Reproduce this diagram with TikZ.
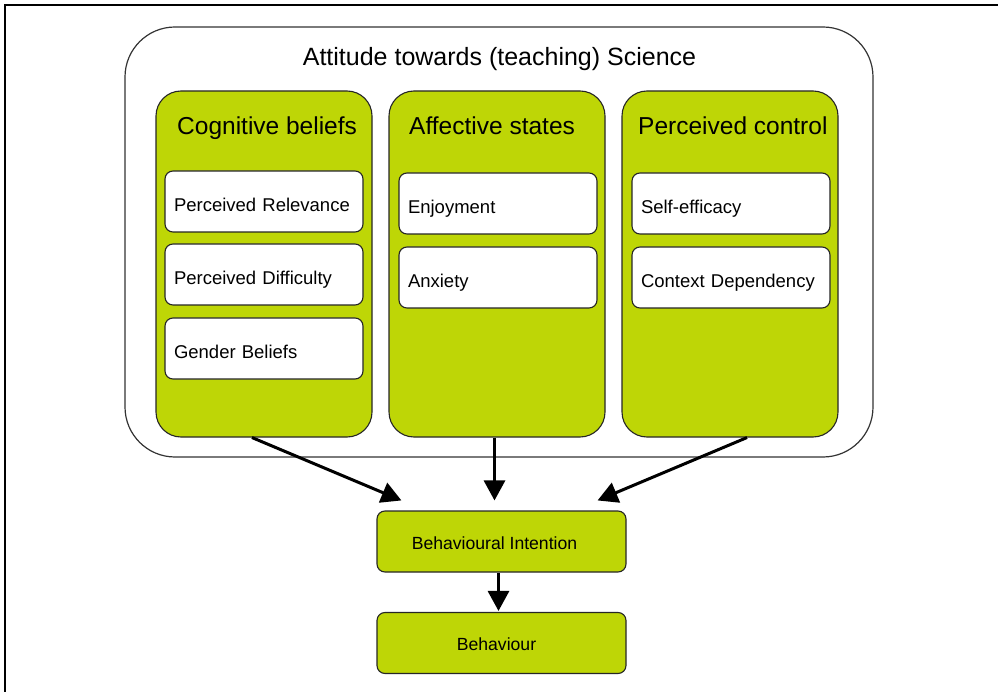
\documentclass[tikz,border=0pt]{standalone}
\usepackage{fontspec}
\setmainfont{Liberation Sans}
\usetikzlibrary{positioning}
\usetikzlibrary{arrows.meta}
\definecolor{leaf}{RGB}{190,214,6}

\begin{document}
\begin{tikzpicture}[x=1pt, y=-1pt,
        panel/.style={draw=black!85, fill=leaf, line width=1.1pt, rounded corners=25pt, minimum width=216pt, minimum height=346pt},
        item/.style={draw=black!85, fill=white, line width=1.1pt, rounded corners=8pt, minimum width=198pt, minimum height=61pt,
            text width=180pt, inner xsep=9pt, align=left, text height=21pt, text depth=0pt, font=\fontsize{18.5}{22}\selectfont},
        stage/.style={draw=black!85, fill=leaf, line width=1.1pt, rounded corners=8pt, minimum width=249pt, minimum height=61pt,
            text height=15.5pt, text depth=0pt, font=\fontsize{17.6}{21}\selectfont},
        ttl/.style={anchor=base west, inner sep=0pt, font=\fontsize{24.5}{28}\selectfont},
        arr/.style={line width=3pt, -{Triangle[length=20pt,width=21pt]}}]
            \useasboundingbox (0,0) rectangle (998,692);
            \draw[line width=1.3pt] (5,692) -- (5,5) -- (998,5);

            \node[draw=black!80, line width=1.2pt, rounded corners=50pt, minimum width=748pt, minimum height=430pt] (attitude) at (499,242) {};
            \node[anchor=base, inner sep=0pt, font=\fontsize{25}{30}\selectfont] (title) at (499.5,66) {Attitude towards (teaching) Science};

            \node[panel] (cog) at (264,264) {};
            \node[panel] (aff) at (497,264) {};
            \node[panel] (ctl) at (730,264) {};
            \node[ttl] (cogt) at (177,135) {Cognitive beliefs};
            \node[ttl] (afft) at (409,135) {Affective states};
            \node[ttl] (ctlt) at (638,135) {Perceived control};

            \node[item] (rel) at (264,201.5) {Perceived Relevance};
            \node[item] (dif) at (264,274.5) {Perceived Difficulty};
            \node[item] (gen) at (264,348.5) {Gender Beliefs};
            \node[item] (enj) at (498,203.5) {Enjoyment};
            \node[item] (anx) at (498,277.5) {Anxiety};
            \node[item] (eff) at (731,203.5) {Self-efficacy};
            \node[item] (con) at (731,277.5) {Context Dependency};

            \node[stage] (bi) at (501.5,541.5) {\hspace*{-14pt}Behavioural Intention};
            \node[stage] (beh) at (501.5,643) {\hspace*{-10pt}Behaviour};

            \draw[arr] ([xshift=-12pt]cog.south) -- ([xshift=25pt,yshift=10pt]bi.north west);
            \draw[arr] ([xshift=-2.5pt]aff.south) -- ([xshift=-7pt,yshift=10pt]bi.north);
            \draw[arr] ([xshift=17pt]ctl.south) -- ([xshift=-29pt,yshift=10pt]bi.north east);
            \draw[arr] ([xshift=-3pt]bi.south) -- ([xshift=-3pt,yshift=1pt]beh.north);
        \end{tikzpicture}
\end{document}
